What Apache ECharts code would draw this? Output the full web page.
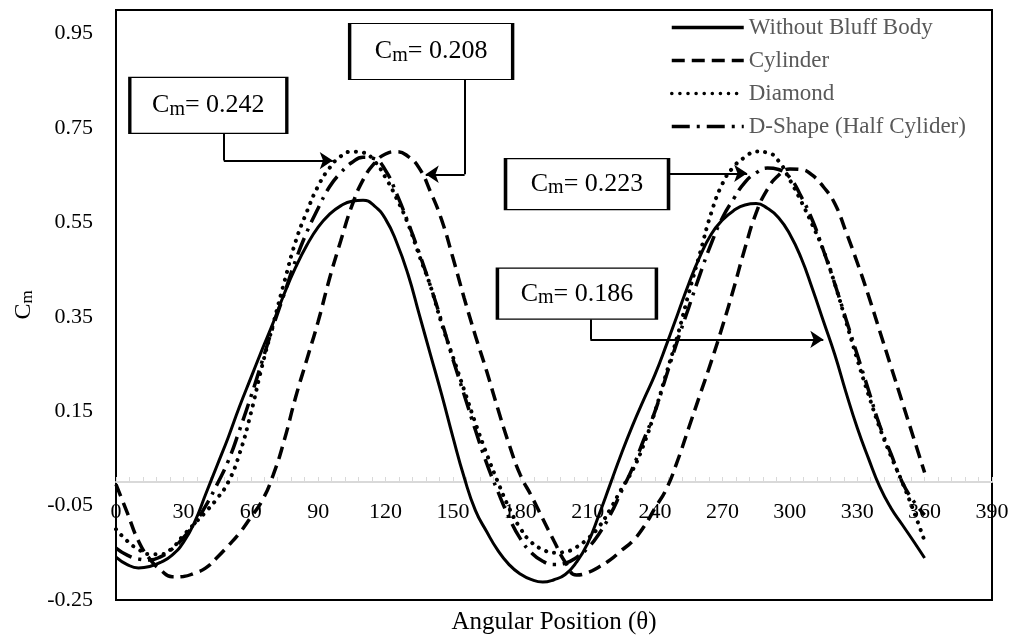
<!DOCTYPE html>
<html>
<head>
<meta charset="utf-8">
<script src="https://cdn.jsdelivr.net/npm/echarts@6/dist/echarts.min.js"></script>
<style>
  html, body { margin: 0; padding: 0; background: #fff; }
  #chart { width: 1020px; height: 639px; }
</style>
</head>
<body>
<div id="chart"></div>
<script>
// Moment coefficient over one revolution, sampled every 5 degrees
const angles = [0,5,10,15,20,25,30,35,40,45,50,55,60,65,70,75,80,85,90,95,100,105,110,115,120,125,130,135,140,145,150,155,160,165,170,175,180,185,190,195,200,205,210,215,220,225,230,235,240,245,250,255,260,265,270,275,280,285,290,295,300,305,310,315,320,325,330,335,340,345,350,355,360];
const withoutBluffBody = [-0.159,-0.175,-0.182,-0.179,-0.170,-0.155,-0.128,-0.085,-0.025,0.035,0.095,0.160,0.220,0.280,0.338,0.400,0.455,0.502,0.540,0.567,0.585,0.595,0.597,0.585,0.557,0.507,0.440,0.355,0.270,0.185,0.095,0.010,-0.060,-0.105,-0.145,-0.175,-0.195,-0.207,-0.212,-0.207,-0.196,-0.170,-0.130,-0.070,-0.005,0.060,0.120,0.175,0.228,0.290,0.355,0.420,0.478,0.525,0.555,0.575,0.587,0.590,0.580,0.560,0.525,0.475,0.410,0.340,0.270,0.190,0.115,0.050,-0.010,-0.055,-0.090,-0.125,-0.161];
const cylinder = [-0.005,-0.065,-0.125,-0.163,-0.187,-0.201,-0.200,-0.193,-0.182,-0.160,-0.135,-0.108,-0.075,-0.040,0.015,0.090,0.180,0.260,0.340,0.430,0.510,0.585,0.640,0.675,0.695,0.700,0.690,0.665,0.615,0.555,0.475,0.390,0.310,0.235,0.155,0.080,0.015,-0.030,-0.078,-0.125,-0.170,-0.197,-0.192,-0.180,-0.165,-0.145,-0.125,-0.095,-0.055,-0.015,0.045,0.115,0.185,0.255,0.330,0.410,0.495,0.570,0.620,0.650,0.663,0.662,0.650,0.625,0.590,0.530,0.465,0.395,0.320,0.245,0.170,0.095,0.020];
const diamond = [-0.100,-0.125,-0.143,-0.153,-0.153,-0.140,-0.113,-0.088,-0.063,-0.035,0.000,0.060,0.145,0.245,0.335,0.425,0.510,0.573,0.627,0.665,0.690,0.700,0.698,0.680,0.645,0.600,0.547,0.480,0.415,0.335,0.265,0.195,0.125,0.060,0.000,-0.055,-0.098,-0.128,-0.143,-0.150,-0.148,-0.138,-0.120,-0.095,-0.058,-0.015,0.025,0.080,0.150,0.230,0.310,0.400,0.485,0.570,0.632,0.668,0.688,0.700,0.698,0.680,0.640,0.595,0.545,0.490,0.420,0.340,0.260,0.185,0.115,0.055,0.000,-0.060,-0.125];
const dShape = [-0.140,-0.155,-0.163,-0.165,-0.158,-0.142,-0.118,-0.088,-0.050,-0.005,0.045,0.110,0.180,0.255,0.330,0.400,0.470,0.530,0.580,0.625,0.655,0.677,0.688,0.685,0.660,0.610,0.550,0.485,0.415,0.340,0.260,0.185,0.110,0.040,-0.020,-0.075,-0.120,-0.150,-0.168,-0.175,-0.172,-0.160,-0.140,-0.110,-0.070,-0.020,0.030,0.090,0.150,0.225,0.300,0.370,0.440,0.505,0.560,0.600,0.635,0.655,0.665,0.662,0.645,0.605,0.555,0.490,0.420,0.345,0.270,0.195,0.120,0.060,0.000,-0.040,-0.070];

const seriesNames = ['Without Bluff Body', 'Cylinder', 'Diamond', 'D-Shape (Half Cylider)'];
const yTickLabels = [-0.25, -0.05, 0.15, 0.35, 0.55, 0.75, 0.95];

// Mean moment coefficient callouts
const calloutValues = ['0.242', '0.208', '0.223', '0.186'];
// Callout box centres and sizes, in axis units / pixels
const calloutCentres = [[41.1, 0.798], [140.3, 0.912], [209.7, 0.631], [205.2, 0.399]];
const calloutSizes = [[157, 56], [163, 56], [163, 51], [159, 51]];
// Leader lines: elbow legs (no head) and arrow legs (head at end)
const leaderLegs = [
  [[48.0, 0.738], [48.0, 0.681]],
  [[155.2, 0.853], [155.2, 0.652]],
  [[211.2, 0.345], [211.2, 0.302]]
];
const arrowLegs = [
  [[48.0, 0.681], [96.5, 0.681]],
  [[155.2, 0.652], [137.9, 0.652]],
  [[245.9, 0.654], [281.0, 0.654]],
  [[211.2, 0.302], [314.9, 0.302]]
];

const serif = '"Liberation Serif", "Times New Roman", serif';
const toPairs = ys => angles.map((a, i) => [a, ys[i]]);

const lineStyles = [
  { color: '#000', width: 3 },
  { color: '#000', width: 3.5, type: [13, 7] },
  { color: '#000', width: 4, type: [0.1, 8], cap: 'round' },
  { color: '#000', width: 3.5, type: [18, 7, 3, 7] }
];
const curves = [withoutBluffBody, cylinder, diamond, dShape];

const chart = echarts.init(document.getElementById('chart'));

const option = {
  backgroundColor: '#fff',
  animation: false,
  grid: {
    left: 116, right: 28, top: 10, bottom: 39,
    outerBoundsMode: 'none', containLabel: false,
    show: true, borderColor: '#000', borderWidth: 2, backgroundColor: 'transparent'
  },
  legend: {
    data: seriesNames,
    orient: 'vertical',
    left: 670, top: 16,
    padding: 0,
    itemWidth: 72, itemHeight: 14, itemGap: 10,
    itemStyle: { opacity: 0 },
    lineStyle: { width: 3.5 },
    textStyle: { fontFamily: serif, fontSize: 23, color: '#595959', lineHeight: 23 }
  },
  xAxis: {
    type: 'value', min: 0, max: 390, interval: 30,
    axisLine: { onZero: true, lineStyle: { color: '#d9d9d9', width: 2 } },
    axisTick: { inside: true, length: 5, lineStyle: { color: '#d9d9d9', width: 1 } },
    minorTick: { show: true, splitNumber: 5, length: 5, lineStyle: { color: '#d9d9d9', width: 1 } },
    splitLine: { show: false },
    axisLabel: { margin: -99, color: '#000', fontFamily: serif, fontSize: 22, showMaxLabel: true, showMinLabel: true },
    name: 'Angular Position (θ)',
    nameLocation: 'middle', nameGap: 10,
    nameTextStyle: { fontFamily: serif, fontSize: 25, color: '#000' }
  },
  yAxis: {
    type: 'value', min: -0.25, max: 1.0,
    axisLine: { show: false }, axisTick: { show: false }, splitLine: { show: false },
    axisLabel: {
      customValues: yTickLabels,
      formatter: v => v.toFixed(2),
      margin: 23, color: '#000', fontFamily: serif, fontSize: 22
    },
    name: '{c|C}{s|m}',
    nameLocation: 'middle', nameRotate: 90, nameGap: 60,
    nameTextStyle: {
      rich: {
        c: { fontFamily: serif, fontSize: 24, color: '#000', lineHeight: 26 },
        s: { fontFamily: serif, fontSize: 17, color: '#000', lineHeight: 17, padding: [9, 0, 0, 0] }
      }
    }
  },
  series: [
    ...curves.map((ys, i) => ({
      name: seriesNames[i],
      type: 'line',
      data: toPairs(ys),
      smooth: 0.5,
      symbol: 'none',
      lineStyle: lineStyles[i],
      itemStyle: { color: '#000' },
      z: 3,
      silent: true
    })),
    {
      type: 'lines', coordinateSystem: 'cartesian2d', silent: true, z: 5,
      symbol: ['none', 'none'],
      lineStyle: { color: '#000', width: 2, opacity: 1, curveness: 0 },
      data: leaderLegs.map(c => ({ coords: c }))
    },
    {
      type: 'lines', coordinateSystem: 'cartesian2d', silent: true, z: 5,
      symbol: ['none', 'arrow'], symbolSize: 13,
      lineStyle: { color: '#000', width: 2, opacity: 1, curveness: 0 },
      data: arrowLegs.map(c => ({ coords: c }))
    },
    {
      type: 'scatter', silent: true, z: 6,
      symbol: 'rect',
      itemStyle: { color: '#fff', borderColor: '#000', borderWidth: 2, opacity: 1 },
      label: {
        show: true, position: 'inside',
        formatter: p => '{c|C}{s|m}{c|= ' + p.data.cm + '}',
        rich: {
          c: { fontFamily: serif, fontSize: 26, color: '#000', lineHeight: 28 },
          s: { fontFamily: serif, fontSize: 20, color: '#000', lineHeight: 20, padding: [8, 0, 0, 0] }
        }
      },
      data: calloutValues.map((v, i) => ({ value: calloutCentres[i], symbolSize: calloutSizes[i], cm: v }))
    }
  ]
};

chart.setOption(option);
</script>
</body>
</html>
